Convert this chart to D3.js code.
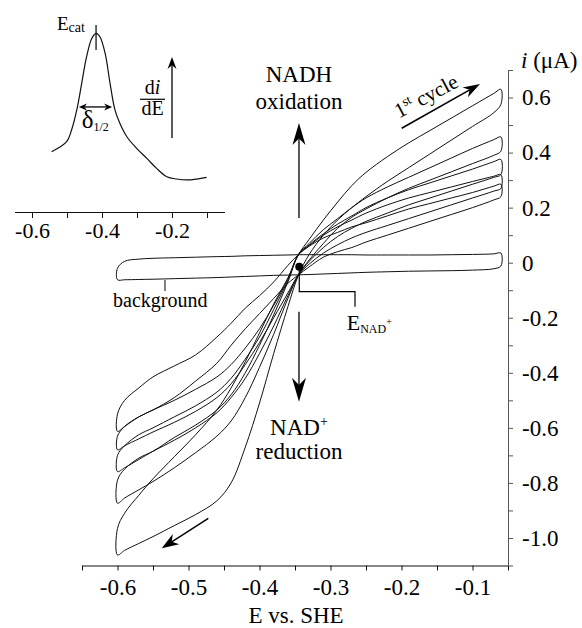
<!DOCTYPE html>
<html>
<head>
<meta charset="utf-8">
<script src="https://cdn.jsdelivr.net/npm/d3@7"></script>
<style>
body { margin: 0; background: #fff; }
svg { display: block; font-family: "Liberation Serif", "Times New Roman", serif; }
</style>
</head>
<body>
<div id="chart"></div>
<script>
/* potential grid (V vs SHE) shared by every sweep */
var potential = [-0.60, -0.59, -0.57, -0.55, -0.52, -0.49, -0.46, -0.44, -0.42, -0.40, -0.38, -0.36, -0.345,
    -0.33, -0.31, -0.29, -0.27, -0.25, -0.22, -0.19, -0.16, -0.13, -0.10, -0.07, -0.06];

/* current (uA), forward (anodic) and reverse (cathodic) sweep of each cycle */
var fwd1 = [-0.965, -0.91, -0.845, -0.785, -0.705, -0.625, -0.535, -0.455, -0.36, -0.255, -0.15, -0.055, 0.03,
    0.085, 0.155, 0.22, 0.28, 0.328, 0.385, 0.435, 0.48, 0.525, 0.57, 0.615, 0.63];
var rev1 = [-1.062, -1.045, -1.02, -0.995, -0.955, -0.915, -0.865, -0.80, -0.67, -0.51, -0.33, -0.16, -0.044,
    0.03, 0.10, 0.155, 0.20, 0.24, 0.295, 0.345, 0.395, 0.445, 0.495, 0.545, 0.575];
var fwd2 = [-0.79, -0.75, -0.71, -0.685, -0.635, -0.59, -0.535, -0.48, -0.40, -0.30, -0.19, -0.07, 0.03,
    0.07, 0.12, 0.16, 0.20, 0.235, 0.275, 0.31, 0.345, 0.38, 0.415, 0.447, 0.457];
var rev2 = [-0.874, -0.855, -0.825, -0.795, -0.745, -0.69, -0.63, -0.575, -0.49, -0.38, -0.26, -0.13, -0.044,
    0.01, 0.07, 0.125, 0.165, 0.195, 0.235, 0.27, 0.30, 0.33, 0.36, 0.39, 0.405];
var fwd3 = [-0.70, -0.665, -0.625, -0.60, -0.56, -0.52, -0.47, -0.42, -0.35, -0.27, -0.17, -0.065, 0.03,
    0.065, 0.105, 0.14, 0.17, 0.20, 0.235, 0.265, 0.29, 0.315, 0.34, 0.367, 0.375];
var rev3 = [-0.759, -0.745, -0.715, -0.685, -0.645, -0.60, -0.545, -0.49, -0.42, -0.33, -0.23, -0.12, -0.044,
    0.005, 0.055, 0.095, 0.125, 0.15, 0.18, 0.21, 0.235, 0.26, 0.285, 0.31, 0.32];
var fwd4 = [-0.63, -0.595, -0.56, -0.535, -0.50, -0.46, -0.415, -0.37, -0.31, -0.24, -0.155, -0.06, 0.03,
    0.062, 0.10, 0.13, 0.155, 0.18, 0.21, 0.235, 0.255, 0.275, 0.295, 0.314, 0.32];
var rev4 = [-0.68, -0.665, -0.64, -0.615, -0.58, -0.54, -0.49, -0.44, -0.37, -0.29, -0.20, -0.11, -0.044,
    -0.005, 0.035, 0.065, 0.09, 0.11, 0.135, 0.16, 0.185, 0.21, 0.235, 0.26, 0.27];
var fwd5 = [-0.55, -0.50, -0.455, -0.415, -0.375, -0.335, -0.27, -0.22, -0.165, -0.12, -0.07, -0.01, 0.03,
    0.06, 0.09, 0.11, 0.13, 0.145, 0.17, 0.195, 0.215, 0.235, 0.255, 0.278, 0.285];
var rev5 = [-0.613, -0.595, -0.56, -0.535, -0.49, -0.43, -0.365, -0.30, -0.24, -0.185, -0.13, -0.075, -0.044,
    -0.015, 0.02, 0.04, 0.055, 0.075, 0.10, 0.125, 0.15, 0.175, 0.20, 0.228, 0.24];

/* background (no enzyme) cycle */
var bgFwd = [-0.02, 0.005, 0.013, 0.016, 0.018, 0.02, 0.022, 0.023, 0.025, 0.026, 0.027, 0.028, 0.029,
    0.029, 0.029, 0.029, 0.029, 0.028, 0.028, 0.028, 0.028, 0.029, 0.030, 0.032, 0.035];
var bgRev = [-0.062, -0.062, -0.061, -0.06, -0.058, -0.056, -0.054, -0.052, -0.05, -0.048, -0.046, -0.045, -0.044,
    -0.043, -0.041, -0.039, -0.037, -0.035, -0.033, -0.031, -0.03, -0.029, -0.027, -0.022, -0.012];

/* inset: derivative di/dE (arbitrary units) */
var insetE = [-0.544, -0.501, -0.487, -0.472, -0.458, -0.444, -0.429, -0.417, -0.406, -0.391, -0.377,
    -0.363, -0.349, -0.329, -0.301, -0.272, -0.244, -0.215, -0.187, -0.158, -0.129, -0.101];
var insetD = [0.244, 0.308, 0.383, 0.511, 0.681, 0.851, 0.968, 1.0, 0.978, 0.872, 0.681,
    0.511, 0.426, 0.340, 0.266, 0.202, 0.138, 0.085, 0.070, 0.064, 0.070, 0.081];

/* tick values */
var xTicks = [-0.6, -0.5, -0.4, -0.3, -0.2, -0.1];
var xMinor = [-0.65, -0.55, -0.45, -0.35, -0.25, -0.15, -0.05];
var yTicks = [0.6, 0.4, 0.2, 0, -0.2, -0.4, -0.6, -0.8, -1.0];
var yMinor = [0.7, 0.5, 0.3, 0.1, -0.1, -0.3, -0.5, -0.7, -0.9, -1.1];
var insetTicks = [-0.6, -0.5, -0.4, -0.3, -0.2, -0.1];
var insetLabels = [-0.6, -0.4, -0.2];

var width = 582;
var height = 628;
var serif = "'Liberation Serif', 'Times New Roman', serif";

var svg = d3.select("#chart")
    .append("svg")
    .attr("width", width)
    .attr("height", height);

var x = d3.scaleLinear().domain([-0.65, -0.05]).range([82, 508]);
var y = d3.scaleLinear().domain([-1.1, 0.7]).range([565.5, 70]);

/* ---------- main axes ---------- */
svg.append("g")
    .attr("transform", "translate(0,565.5)")
    .call(d3.axisBottom(x).tickValues(xTicks).tickSize(5).tickSizeOuter(0).tickPadding(8)
        .tickFormat(d => d.toFixed(1)))
    .call(g => g.selectAll(".domain, .tick line").attr("stroke", "#111"));
svg.append("g")
    .attr("transform", "translate(0,565.5)")
    .call(d3.axisBottom(x).tickValues(xMinor).tickSize(5).tickFormat(""))
    .call(g => g.select(".domain").remove())
    .call(g => g.selectAll(".tick line").attr("stroke", "#111"));

svg.append("g")
    .attr("transform", "translate(508,0)")
    .call(d3.axisRight(y).tickValues(yTicks).tickSize(5).tickSizeOuter(0).tickPadding(9)
        .tickFormat(d => d === 0 ? "0" : d.toFixed(1)))
    .call(g => g.selectAll(".domain, .tick line").attr("stroke", "#555"));
svg.append("g")
    .attr("transform", "translate(508,0)")
    .call(d3.axisRight(y).tickValues(yMinor).tickSize(5).tickFormat(""))
    .call(g => g.select(".domain").remove())
    .call(g => g.selectAll(".tick line").attr("stroke", "#555"));

svg.selectAll("g").attr("font-family", serif);
svg.selectAll(".tick text")
    .attr("font-size", 23)
    .attr("fill", "#000");

/* axis titles */
svg.append("text")
    .attr("x", 296).attr("y", 623)
    .attr("text-anchor", "middle")
    .style("font-size", "23px")
    .text("E vs. SHE");

var yTitle = svg.append("text")
    .attr("x", 521).attr("y", 68)
    .style("font-size", "23px");
yTitle.append("tspan").style("font-style", "italic").text("i");
yTitle.append("tspan").text(" (\u03BCA)");

/* ---------- voltammograms ---------- */
var loopLine = d3.line()
    .x(d => x(d[0]))
    .y(d => y(d[1]))
    .curve(d3.curveCatmullRomClosed.alpha(0.5));

function loopPoints(f, r) {
    var pts = potential.map((e, k) => [e, f[k]]);
    for (var k = potential.length - 1; k >= 0; k--) pts.push([potential[k], r[k]]);
    return pts;
}

var cycles = [[bgFwd, bgRev], [fwd1, rev1], [fwd2, rev2], [fwd3, rev3], [fwd4, rev4], [fwd5, rev5]];

svg.append("g")
    .selectAll("path")
    .data(cycles)
    .enter().append("path")
    .attr("d", d => loopLine(loopPoints(d[0], d[1])))
    .attr("fill", "none")
    .attr("stroke", "#111")
    .attr("stroke-width", 1);

/* ---------- arrows ---------- */
function arrow(g, x1, y1, x2, y2, L, W, sw) {
    var dx = x2 - x1, dy = y2 - y1, len = Math.hypot(dx, dy);
    var ux = dx / len, uy = dy / len, nx = -uy, ny = ux;
    var bx = x2 - ux * L, by = y2 - uy * L;
    var mx = x2 - ux * L * 0.7, my = y2 - uy * L * 0.7;
    g.append("line")
        .attr("x1", x1).attr("y1", y1).attr("x2", mx).attr("y2", my)
        .attr("stroke", "#000").attr("stroke-width", sw || 1.3);
    g.append("path")
        .attr("d", "M" + x2 + "," + y2 + "L" + (bx + nx * W) + "," + (by + ny * W) +
            "L" + mx + "," + my + "L" + (bx - nx * W) + "," + (by - ny * W) + "Z")
        .attr("fill", "#000");
}

var ann = svg.append("g");

/* NADH oxidation / NAD+ reduction */
arrow(ann, x(-0.3444), y(0.1624), x(-0.3444), y(0.5075), 22, 6.5);
arrow(ann, x(-0.3444), y(-0.178), x(-0.3444), y(-0.505), 24, 7);

ann.append("text").attr("x", x(-0.3444)).attr("y", y(0.6575))
    .attr("text-anchor", "middle").style("font-size", "23px").text("NADH");
ann.append("text").attr("x", x(-0.3444)).attr("y", y(0.5583))
    .attr("text-anchor", "middle").style("font-size", "23px").text("oxidation");

var nadText = ann.append("text").attr("x", x(-0.3444)).attr("y", y(-0.625))
    .attr("text-anchor", "middle").style("font-size", "23px");
nadText.append("tspan").text("NAD");
nadText.append("tspan").attr("dy", -9).style("font-size", "14px").text("+");
ann.append("text").attr("x", x(-0.3444)).attr("y", y(-0.712))
    .attr("text-anchor", "middle").style("font-size", "23px").text("reduction");

/* E NAD+ marker */
ann.append("circle").attr("cx", x(-0.344)).attr("cy", y(-0.0145)).attr("r", 4).attr("fill", "#000");
ann.append("path")
    .attr("d", "M" + x(-0.344) + "," + y(-0.0145) + "V" + y(-0.1053) + "H" + x(-0.2655) + "V" + y(-0.1598))
    .attr("fill", "none").attr("stroke", "#000").attr("stroke-width", 1.2);
var eNad = ann.append("text").attr("x", x(-0.2772)).attr("y", y(-0.2445)).style("font-size", "22px");
eNad.append("tspan").text("E");
eNad.append("tspan").attr("dy", 3).style("font-size", "12px").text("NAD");
eNad.append("tspan").attr("dy", -8).style("font-size", "10px").text("+");

/* background label */
ann.append("line")
    .attr("x1", x(-0.5331)).attr("x2", x(-0.5331)).attr("y1", y(-0.0629)).attr("y2", y(-0.1028))
    .attr("stroke", "#000").attr("stroke-width", 1);
ann.append("text").attr("x", x(-0.6063)).attr("y", y(-0.1598))
    .style("font-size", "20px").text("background");

/* 1st cycle */
arrow(ann, x(-0.1997), y(0.4882), x(-0.0894), y(0.6491), 17, 5.5, 1.6);
var cyc = ann.append("text")
    .attr("transform", "translate(" + x(-0.2035) + "," + y(0.5238) + ") rotate(-28)")
    .style("font-size", "21px");
cyc.append("tspan").text("1");
cyc.append("tspan").attr("dy", -8).style("font-size", "13px").text("st");
cyc.append("tspan").attr("dy", 8).text(" cycle");

/* scan direction arrow at bottom left */
arrow(ann, x(-0.4721), y(-0.9285), x(-0.5377), y(-1.0375), 17, 6, 1.5);

/* ---------- inset ---------- */
var ix = d3.scaleLinear().domain([-0.65, -0.05]).range([14.5, 224.5]);
var iy = d3.scaleLinear().domain([0, 1]).range([190, 33.3]);

var inset = svg.append("g");
inset.append("g")
    .attr("transform", "translate(0,212)")
    .call(d3.axisBottom(ix).tickValues(insetTicks).tickSize(6).tickSizeOuter(0).tickPadding(4)
        .tickFormat(d => insetLabels.indexOf(d) >= 0 ? d.toFixed(1) : ""))
    .attr("font-family", serif)
    .call(g => g.selectAll(".tick text").attr("font-size", 22).attr("fill", "#000"))
    .call(g => g.selectAll(".domain, .tick line").attr("stroke", "#111"));

inset.append("path")
    .datum(insetE.map((e, k) => [e, insetD[k]]))
    .attr("d", d3.line().x(d => ix(d[0])).y(d => iy(d[1])).curve(d3.curveCatmullRom.alpha(0.5)))
    .attr("fill", "none")
    .attr("stroke", "#111")
    .attr("stroke-width", 1.2);

/* Ecat */
inset.append("line")
    .attr("x1", ix(-0.417)).attr("x2", ix(-0.417)).attr("y1", iy(1.053)).attr("y2", iy(0.893))
    .attr("stroke", "#000").attr("stroke-width", 1.2);
var ecat = inset.append("text").attr("x", ix(-0.5286)).attr("y", iy(1.021)).style("font-size", "19px");
ecat.append("tspan").text("E");
ecat.append("tspan").attr("dy", 2).style("font-size", "14px").text("cat");

/* half-height width */
arrow(inset, ix(-0.42), iy(0.53), ix(-0.466), iy(0.53), 8, 3.5, 1.3);
arrow(inset, ix(-0.42), iy(0.53), ix(-0.371), iy(0.53), 8, 3.5, 1.3);
var delta = inset.append("text").attr("x", ix(-0.458)).attr("y", iy(0.396)).style("font-size", "25px");
delta.append("tspan").text("\u03B4");
delta.append("tspan").attr("dy", 3).style("font-size", "12px").text("1/2");

/* di/dE */
var di = inset.append("text").attr("x", ix(-0.2557)).attr("y", iy(0.611))
    .attr("text-anchor", "middle").style("font-size", "20px");
di.append("tspan").text("d");
di.append("tspan").style("font-style", "italic").text("i");
inset.append("line")
    .attr("x1", ix(-0.2914)).attr("x2", ix(-0.22)).attr("y1", iy(0.579)).attr("y2", iy(0.579))
    .attr("stroke", "#000").attr("stroke-width", 1.2);
inset.append("text").attr("x", ix(-0.2557)).attr("y", iy(0.479))
    .attr("text-anchor", "middle").style("font-size", "20px").text("dE");
arrow(inset, ix(-0.2), iy(0.332), ix(-0.2), iy(0.849), 12, 4.5, 1.3);
</script>
</body>
</html>
